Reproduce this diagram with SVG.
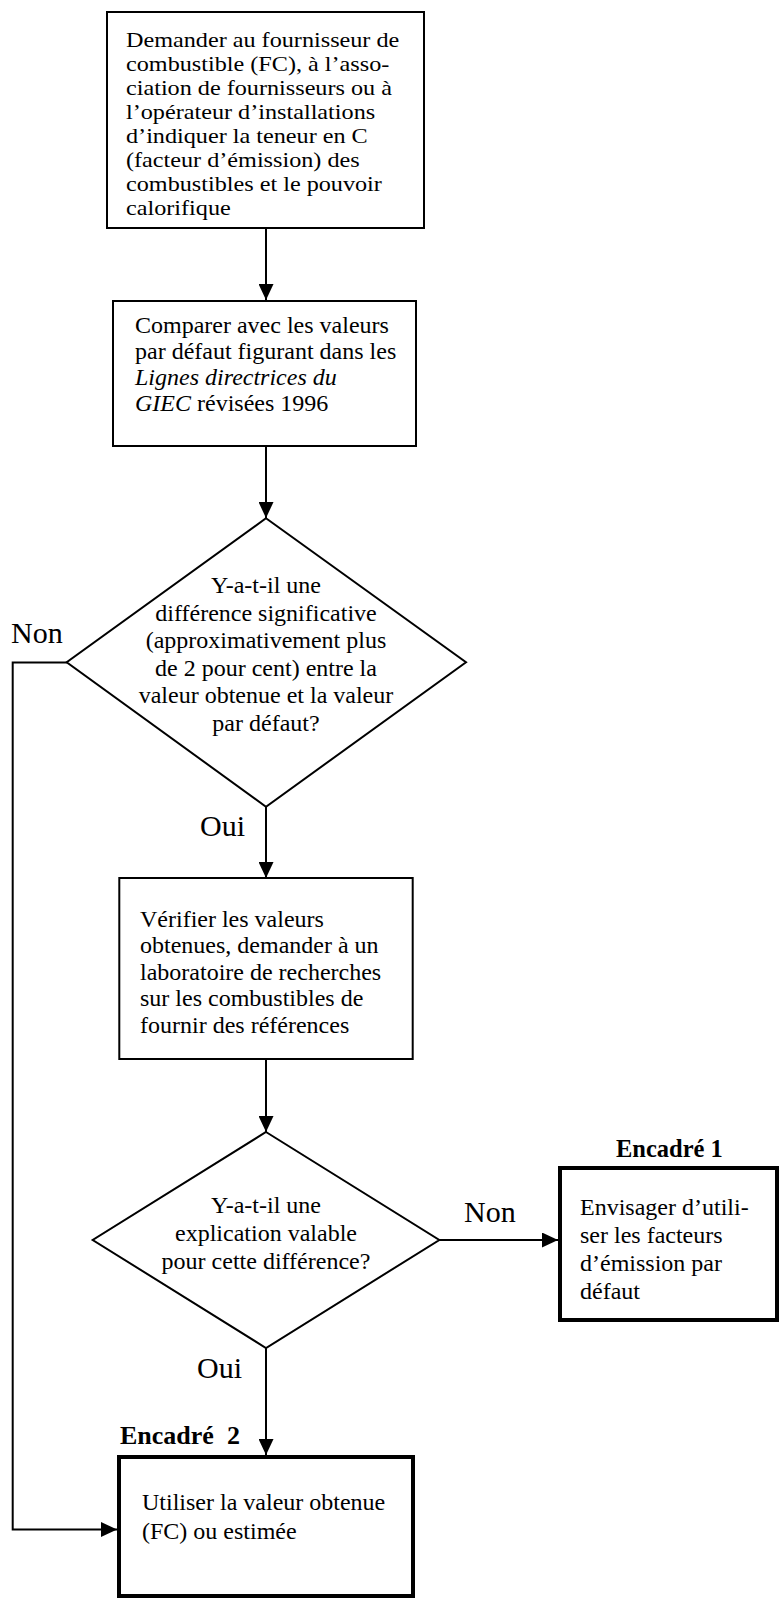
<svg xmlns="http://www.w3.org/2000/svg" width="780" height="1599" viewBox="0 0 780 1599">
<style>
.box{fill:#fff;stroke:#000;stroke-width:2}
.thick{fill:#fff;stroke:#000;stroke-width:4}
.t{font-family:"Liberation Serif","Times New Roman",serif;font-size:24px;fill:#000}
.c{text-anchor:middle}
.lbl{font-family:"Liberation Serif","Times New Roman",serif;font-size:30px;fill:#000}
.hd{font-family:"Liberation Serif","Times New Roman",serif;font-weight:bold;fill:#000;white-space:pre}
.ln{fill:none;stroke:#000;stroke-width:2}
</style>
<defs>
<marker id="ah" markerUnits="userSpaceOnUse" markerWidth="16" markerHeight="15" refX="16" refY="7.5" orient="auto" viewBox="0 0 16 15">
<path d="M0,0 L16,7.5 L0,15 z" fill="#000"/>
</marker>
</defs>
<rect width="780" height="1599" fill="#fff"/>
<g id="connectors">
<line class="ln" x1="266" y1="229" x2="266" y2="300" marker-end="url(#ah)"/>
<line class="ln" x1="266" y1="447" x2="266" y2="518" marker-end="url(#ah)"/>
<line class="ln" x1="266" y1="807" x2="266" y2="878" marker-end="url(#ah)"/>
<line class="ln" x1="266" y1="1060" x2="266" y2="1132" marker-end="url(#ah)"/>
<line class="ln" x1="439" y1="1240" x2="558" y2="1240" marker-end="url(#ah)"/>
<line class="ln" x1="266" y1="1348" x2="266" y2="1455" marker-end="url(#ah)"/>
<polyline class="ln" points="67,662.5 12.7,662.5 12.7,1529.5 117,1529.5" marker-end="url(#ah)"/>
<text class="lbl" x="11" y="643">Non</text>
<text class="lbl" x="200" y="836">Oui</text>
<text class="lbl" x="464" y="1222">Non</text>
<text class="lbl" x="197" y="1378">Oui</text>
</g>
<g id="n1">
<rect class="box" x="107" y="12" width="317" height="216"/>
<g transform="translate(126,0) scale(1.1,1)">
<text class="t" style="font-size:22px" x="0" y="47.5">Demander au fournisseur de</text>
<text class="t" style="font-size:22px" x="0" y="71.5">combustible (FC), à l’asso-</text>
<text class="t" style="font-size:22px" x="0" y="95.5">ciation de fournisseurs ou à</text>
<text class="t" style="font-size:22px" x="0" y="119.5">l’opérateur d’installations</text>
<text class="t" style="font-size:22px" x="0" y="143.5">d’indiquer la teneur en C</text>
<text class="t" style="font-size:22px" x="0" y="167.5">(facteur d’émission) des</text>
<text class="t" style="font-size:22px" x="0" y="191.5">combustibles et le pouvoir</text>
<text class="t" style="font-size:22px" x="0" y="215.5">calorifique</text>
</g>
</g>
<g id="n2">
<rect class="box" x="113" y="301" width="303" height="145"/>
<text class="t" x="135" y="333">Comparer avec les valeurs</text>
<text class="t" x="135" y="359">par défaut figurant dans les</text>
<text class="t" x="135" y="385" font-style="italic">Lignes directrices du</text>
<text class="t" x="135" y="411"><tspan font-style="italic">GIEC</tspan> révisées 1996</text>
</g>
<g id="d1">
<polygon class="box" points="266,518.3 466,662.3 266,806.7 66.7,662.3"/>
<text class="t c" x="266" y="593">Y-a-t-il une</text>
<text class="t c" x="266" y="620.6">différence significative</text>
<text class="t c" x="266" y="648.2">(approximativement plus</text>
<text class="t c" x="266" y="675.8">de 2 pour cent) entre la</text>
<text class="t c" x="266" y="703.4">valeur obtenue et la valeur</text>
<text class="t c" x="266" y="731">par défaut?</text>
</g>
<g id="n3">
<rect class="box" x="119.3" y="878" width="293.4" height="181"/>
<text class="t" x="140" y="927">Vérifier les valeurs</text>
<text class="t" x="140" y="953.4">obtenues, demander à un</text>
<text class="t" x="140" y="979.8">laboratoire de recherches</text>
<text class="t" x="140" y="1006.2">sur les combustibles de</text>
<text class="t" x="140" y="1032.6">fournir des références</text>
</g>
<g id="d2">
<polygon class="box" points="266,1132 439.3,1240 266,1348 92.7,1240"/>
<text class="t c" x="266" y="1213">Y-a-t-il une</text>
<text class="t c" x="266" y="1241">explication valable</text>
<text class="t c" x="266" y="1269">pour cette différence?</text>
</g>
<g id="encadre1">
<text class="hd" style="font-size:24.5px" x="616" y="1157">Encadré 1</text>
<rect class="thick" x="560" y="1168" width="217" height="152"/>
<text class="t" x="580" y="1215">Envisager d’utili-</text>
<text class="t" x="580" y="1243">ser les facteurs</text>
<text class="t" x="580" y="1271">d’émission par</text>
<text class="t" x="580" y="1299">défaut</text>
</g>
<g id="encadre2">
<text class="hd" style="font-size:26px" x="120" y="1444">Encadré  2</text>
<rect class="thick" x="119" y="1457" width="294" height="139"/>
<text class="t" x="142" y="1510">Utiliser la valeur obtenue</text>
<text class="t" x="142" y="1539">(FC) ou estimée</text>
</g>
</svg>
